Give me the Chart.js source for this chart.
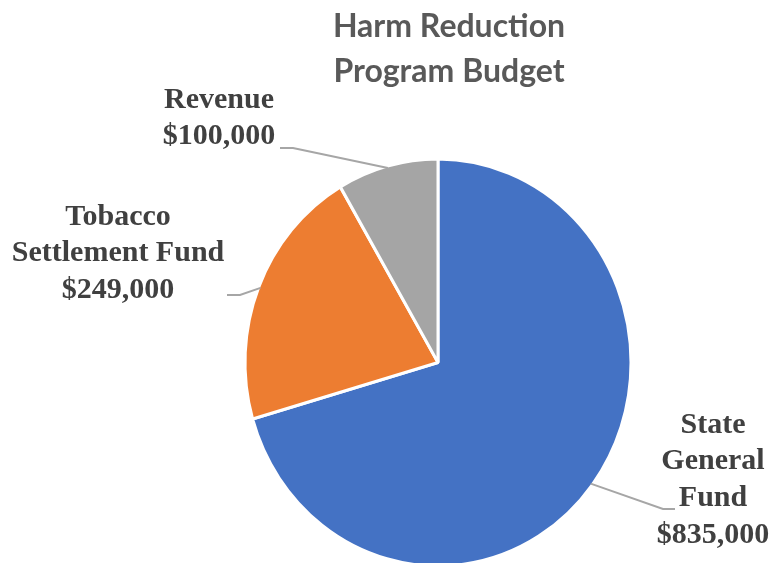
<!DOCTYPE html>
<html lang="en">

<head>
    <meta charset="UTF-8">
    <title>Harm Reduction Program Budget</title>
    <style>
        html, body {
            margin: 0;
            padding: 0;
            background: #ffffff;
            overflow: hidden;
        }
        #wrap {
            width: 774px;
            height: 563px;
        }
    </style>
    <script src="https://cdn.jsdelivr.net/npm/chart.js@4.4.1/dist/chart.umd.min.js"></script>
</head>

<body>
    <div id="wrap">
        <canvas id="myChart" width="774" height="563"></canvas>
    </div>
    <script>
        // data
        let labels = ["State General Fund", "Tobacco Settlement Fund", "Revenue"];
        let amounts = [835000, 249000, 100000];
        let colors = ["#4472C4", "#ED7D31", "#A5A5A5"];
        let titleLines = ["Harm Reduction", "Program Budget"];

        // how each label is broken into lines on the chart
        let labelLines = [
            ["State", "General", "Fund"],
            ["Tobacco", "Settlement Fund"],
            ["Revenue"]
        ];

        function money(v) {
            return "$" + v.toLocaleString("en-US");
        }

        // slightly taller than wide, as in the original
        let stretchY = 1.055;

        const ellipsePlugin = {
            id: "ellipse",
            beforeDatasetsDraw(chart) {
                const arc = chart.getDatasetMeta(0).data[0];
                const ctx = chart.ctx;
                ctx.save();
                ctx.translate(arc.x, arc.y);
                ctx.scale(1, stretchY);
                ctx.translate(-arc.x, -arc.y);
            },
            afterDatasetsDraw(chart) {
                chart.ctx.restore();
            }
        };

        const labelPlugin = {
            id: "outsideLabels",
            afterDraw(chart) {
                const ctx = chart.ctx;
                const meta = chart.getDatasetMeta(0);
                const cx = meta.data[0].x, cy = meta.data[0].y;
                const r = meta.data[0].outerRadius;

                // title
                ctx.save();
                ctx.fillStyle = "#595959";
                ctx.font = "bold 32px Lato, 'Open Sans', sans-serif";
                ctx.textAlign = "center";
                ctx.textBaseline = "middle";
                ctx.fillText(titleLines[0], 449, 27);
                ctx.fillText(titleLines[1], 449, 72);
                ctx.restore();

                // point on the slice edge at its middle angle
                function edge(i, f) {
                    const a = meta.data[i];
                    const mid = (a.startAngle + a.endAngle) / 2;
                    return [cx + Math.cos(mid) * r * f, cy + Math.sin(mid) * r * f * stretchY];
                }

                const boxes = [
                    { x: 713, y: 425, anchor: [663, 509], tail: [675, 509] },
                    { x: 118, y: 217, anchor: [240, 295], tail: [227, 295] },
                    { x: 219, y: 100, anchor: [293, 148], tail: [280, 148] }
                ];

                ctx.save();
                ctx.strokeStyle = "#A6A6A6";
                ctx.lineWidth = 2;
                boxes.forEach(function (b, i) {
                    const p = edge(i, 0.99);
                    ctx.beginPath();
                    ctx.moveTo(b.tail[0], b.tail[1]);
                    ctx.lineTo(b.anchor[0], b.anchor[1]);
                    ctx.lineTo(p[0], p[1]);
                    ctx.stroke();
                });
                ctx.restore();

                ctx.save();
                ctx.fillStyle = "#404040";
                ctx.font = "bold 30px 'Liberation Serif', 'Times New Roman', serif";
                ctx.textAlign = "center";
                ctx.textBaseline = "middle";
                boxes.forEach(function (b, i) {
                    const lines = labelLines[i].concat([money(amounts[i])]);
                    lines.forEach(function (t, k) {
                        ctx.fillText(t, b.x, b.y + k * 36.7);
                    });
                });
                ctx.restore();
            }
        };

        function show() {
            var ctx = document.getElementById("myChart").getContext("2d");
            var myChart = new Chart(ctx, {
                type: "pie",
                data: {
                    labels: labels,
                    datasets: [{
                        data: amounts,
                        backgroundColor: colors,
                        borderColor: "#ffffff",
                        borderWidth: 3
                    }]
                },
                options: {
                    responsive: false,
                    animation: false,
                    layout: {
                        padding: { left: 243, right: 141, top: 168, bottom: 6 }
                    },
                    plugins: {
                        legend: { display: false },
                        title: { display: false },
                        tooltip: { enabled: false }
                    }
                },
                plugins: [ellipsePlugin, labelPlugin]
            });
        }
        show();
    </script>
</body>

</html>
